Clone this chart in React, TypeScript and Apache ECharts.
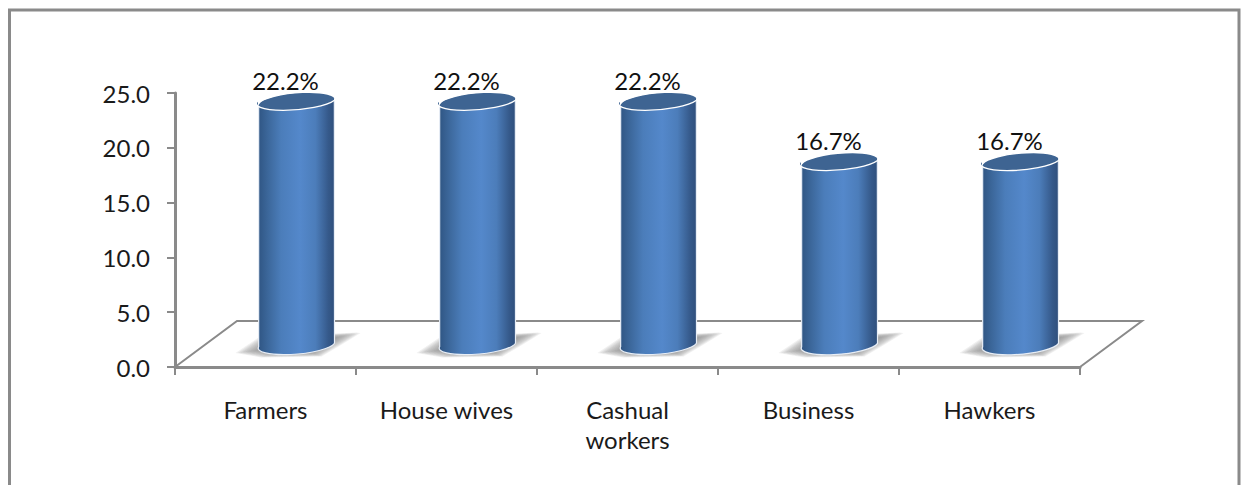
import React, { useEffect, useRef } from "react";
import * as echarts from "echarts";

const categories = ["Farmers", "House wives", "Cashual\nworkers", "Business", "Hawkers"];
const percentages = [22.2, 22.2, 22.2, 16.7, 16.7];
const FONT = "Lato, 'Open Sans', sans-serif";
const GRAY = "#8a8a8a";
const shadowOutline = [[-61, 9.5], [-38, -6], [60, -11], [64, -10.5], [42, 3], [25, 13], [-35, 14]];
const shadowScales = [1, 0.96, 0.92, 0.88, 0.84, 0.8, 0.76, 0.72, 0.68, 0.64];

const bodyGradient = () =>
  new echarts.graphic.LinearGradient(0, 0, 1, 0, [
    { offset: 0, color: "#2f5583" },
    { offset: 0.12, color: "#3b6699" },
    { offset: 0.3, color: "#4b7dba" },
    { offset: 0.55, color: "#5488cb" },
    { offset: 0.75, color: "#4c7dba" },
    { offset: 0.92, color: "#35598a" },
    { offset: 1, color: "#2f4f7c" },
  ]);

function renderColumn(params: any, api: any) {
  const idx = api.value(0);
  const val = api.value(1);
  const top = api.coord([idx, val]);
  const base = api.coord([idx, 0]);
  const cx = base[0] + 31;
  const yb = base[1] - 23.5;
  const yt = top[1] - 23.5;
  const rx = 38;
  const ry = 9;
  const rot = -5.3;
  const dy = 3.5;
  const body = `M${cx - rx} ${yt + dy} L${cx - rx} ${yb + dy} A${rx} ${ry} ${rot} 0 0 ${cx + rx} ${yb - dy} L${cx + rx} ${yt - dy} Z`;
  const cap = `M${cx - rx} ${yt + dy} A${rx} ${ry} ${rot} 0 1 ${cx + rx} ${yt - dy} A${rx} ${ry} ${rot} 0 1 ${cx - rx} ${yt + dy} Z`;
  const shadowLayers = shadowScales.map((s) => ({
    type: "polygon",
    shape: { points: shadowOutline.map(([a, b]) => [cx + a * s, yb + 2 + (b - 2) * s]) },
    style: { fill: "#808080", opacity: 0.12 },
  }));
  return {
    type: "group",
    children: [
      ...shadowLayers,
      {
        type: "path",
        shape: { pathData: body, x: cx - rx, y: yt - dy, width: 2 * rx, height: yb - yt + ry + 4 },
        style: { fill: bodyGradient(), stroke: "#e8eef6", lineWidth: 1.2 },
      },
      {
        type: "path",
        shape: { pathData: cap, x: cx - rx, y: yt - ry, width: 2 * rx, height: 2 * ry },
        style: { fill: "#3e6492", stroke: "#ffffff", lineWidth: 1.4 },
      },
      {
        type: "text",
        style: {
          x: cx - 11,
          y: yt - 20,
          text: val.toFixed(1) + "%",
          fill: "#111",
          font: `24px ${FONT}`,
          align: "center",
          verticalAlign: "middle",
        },
      },
    ],
  };
}

function renderFloor(params: any, api: any) {
  const base = api.coord([0, 0]);
  const band = api.size([1, 0])[0];
  const x0 = base[0] - band / 2;
  const y0 = base[1];
  const x1 = x0 + band * categories.length;
  const dx = 62;
  const dy = 46;
  return {
    type: "polyline",
    shape: { points: [[x0, y0], [x0 + dx, y0 - dy], [x1 + dx, y0 - dy], [x1, y0]] },
    style: { fill: "none", stroke: GRAY, lineWidth: 2 },
  };
}

export default function App() {
  const ref = useRef<HTMLDivElement>(null);
  useEffect(() => {
    const chart = echarts.init(ref.current!, undefined, { renderer: "svg" });
    chart.setOption({
      animation: false,
      backgroundColor: "#ffffff",
      graphic: [
        {
          type: "polyline",
          silent: true,
          z: 10,
          shape: { points: [[9.5, 485], [9.5, 10], [1239, 10], [1239, 485]] },
          style: { fill: "none", stroke: GRAY, lineWidth: 3 },
        },
      ],
      grid: { left: 175, top: 93, width: 905, height: 274 },
      xAxis: {
        type: "category",
        data: categories,
        axisLine: { show: true, lineStyle: { color: GRAY, width: 3 } },
        axisTick: { show: true, length: 8, alignWithLabel: false, lineStyle: { color: GRAY, width: 2 } },
        axisLabel: { interval: 0, margin: 27, fontFamily: FONT, fontSize: 24, color: "#1a1a1a", lineHeight: 30 },
      },
      yAxis: {
        type: "value",
        min: 0,
        max: 25,
        interval: 5,
        splitLine: { show: false },
        axisLine: { show: true, lineStyle: { color: GRAY, width: 3 } },
        axisTick: { show: true, length: 8, lineStyle: { color: GRAY, width: 2 } },
        axisLabel: { margin: 25, fontFamily: FONT, fontSize: 24, color: "#1a1a1a", formatter: (v: number) => v.toFixed(1) },
      },
      series: [
        { type: "custom", z: 1, silent: true, renderItem: renderFloor, data: [[0, 0]], encode: { x: 0, y: 1 } },
        {
          type: "custom",
          z: 2,
          silent: true,
          renderItem: renderColumn,
          data: percentages.map((v, i) => [i, v]),
          encode: { x: 0, y: 1 },
        },
      ],
    });
    return () => chart.dispose();
  }, []);
  return <div ref={ref} style={{ position: "fixed", left: 0, top: 0, width: 1242, height: 485 }} />;
}
